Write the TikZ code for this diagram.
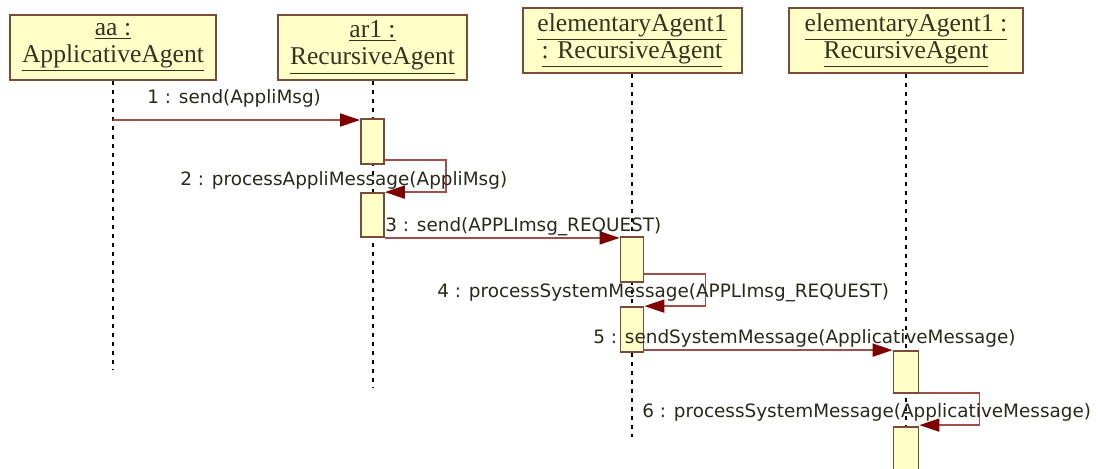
\documentclass[tikz,border=0pt]{standalone}
\usepackage{fontspec}
\setmainfont{Liberation Serif}
\newfontfamily\msgfont{DejaVu Sans}
\usetikzlibrary{arrows.meta}
\definecolor{boxfill}{HTML}{FFFFC8}
\definecolor{boxline}{HTML}{7A4A3A}
\definecolor{msgline}{HTML}{A0504A}
\definecolor{tipcol}{HTML}{800000}
\definecolor{txtcol}{HTML}{333322}
\tikzset{
  objbox/.style={draw=boxline, line width=1pt, fill=boxfill, minimum height=32.5pt,
    inner sep=0pt, align=center, text=txtcol,
    font=\fontsize{12.8pt}{13.5pt}\selectfont},
  actbox/.style={draw=boxline, line width=0.9pt, fill=boxfill, minimum width=11.5pt, inner sep=0pt},
  life/.style={black, line width=1pt, dash pattern=on 2pt off 2.5pt},
  msg/.style={draw=msgline, line width=0.9pt, -{Triangle[length=10pt,width=6.5pt,fill=tipcol,color=tipcol]}},
  msglabel/.style={anchor=west, inner sep=0pt, text=txtcol!80!black, font=\msgfont\fontsize{9.2pt}{11pt}\selectfont}
}
\begin{document}
\begin{tikzpicture}[x=0.5pt,y=-0.5pt]
\useasboundingbox (0,0) rectangle (1104,468);
% objects
\node[objbox, minimum width=103pt] (b1) at (113,47.5) {\underline{aa :}\\\underline{ApplicativeAgent}};
\node[objbox, minimum width=94.5pt] (b2) at (372.5,47.5) {\underline{ar1 :}\\\underline{RecursiveAgent}};
\node[objbox, minimum width=109.5pt] (b3) at (632,40.5) {\underline{elementaryAgent1}\\\underline{: RecursiveAgent}};
\node[objbox, minimum width=117pt] (b4) at (906,40.5) {\underline{elementaryAgent1 :}\\\underline{RecursiveAgent}};
% lifeline ends
\coordinate (e1) at (113,370);
\coordinate (e2) at (372.5,388);
\coordinate (e3) at (632,437);
\coordinate (e4) at (906,468);
\draw[life] (b1.south) -- (e1);
\draw[life] (b2.south) -- (e2);
\draw[life] (b3.south) -- (e3);
\draw[life] (b4.south) -- (e4);
% activations
\node[actbox, minimum height=22.5pt] (a1) at (372.5,141.5) {};
\node[actbox, minimum height=22pt] (a2) at (372.5,215) {};
\node[actbox, minimum height=22.5pt] (a3) at (632,259.5) {};
\node[actbox, minimum height=22.5pt] (a4) at (632,329.5) {};
\node[actbox, minimum width=12.5pt, minimum height=21pt] (a5) at (906,372) {};
\node[actbox, minimum width=12.5pt, minimum height=25pt] (a6) at (906,452) {};
% messages
\coordinate (m1) at (113,120);
\draw[msg] (m1) -- (m1 -| a1.west);
\draw[msg] ([yshift=2.5pt]a1.south east) -| ([xshift=30.5pt]a2.north east) -- (a2.north east);
\draw[msg] (a2.south east) -- (a3.west |- a2.south);
\draw[msg] ([yshift=4.5pt]a3.south east) -| ([xshift=30.5pt]a4.north east) -- (a4.north east);
\coordinate (m5) at (a5.north west -| a4.east);
\draw[msg] (m5) -- (a5.north west);
\draw[msg] ([yshift=0.5pt]a5.south east) -| ([xshift=30pt,yshift=0.5pt]a6.north east) -- ([yshift=0.5pt]a6.north east);
% labels
\node[msglabel] (t1) at (147,98) {1 : send(AppliMsg)};
\node[msglabel] (t2) at (180,180) {2 : processAppliMessage(AppliMsg)};
\node[msglabel] (t3) at (385,227) {3 : send(APPLImsg\_REQUEST)};
\node[msglabel] (t4) at (437,293) {4 : processSystemMessage(APPLImsg\_REQUEST)};
\node[msglabel] (t5) at (593,338) {5 : sendSystemMessage(ApplicativeMessage)};
\node[msglabel] (t6) at (642,412) {6 : processSystemMessage(ApplicativeMessage)};
\end{tikzpicture}
\end{document}
